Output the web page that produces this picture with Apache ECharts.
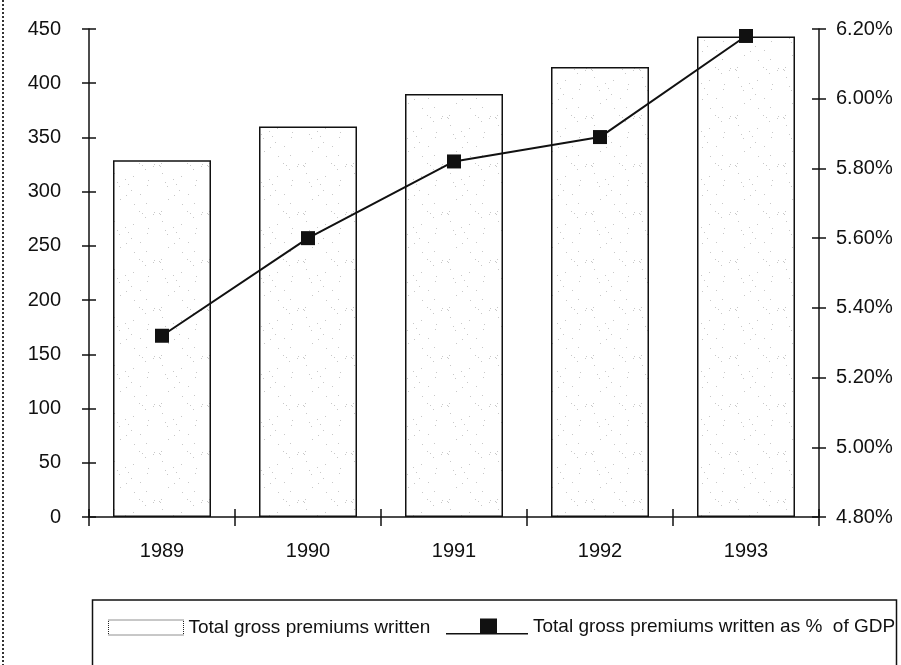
<!DOCTYPE html>
<html>
<head>
<meta charset="utf-8">
<script src="https://cdn.jsdelivr.net/npm/echarts@6/dist/echarts.min.js"></script>
<style>
  html, body { margin: 0; padding: 0; background: #fff; }
  #chart { width: 901px; height: 665px; }
</style>
</head>
<body>
<div id="chart"></div>
<script>
// Years on the category axis
const years = ['1989', '1990', '1991', '1992', '1993'];
// Total gross premiums written (left axis)
const premiums = [329, 360, 390, 415, 443];
// Total gross premiums written as % of GDP (right axis)
const pctGdp = [5.32, 5.60, 5.82, 5.89, 6.18];

const barName = 'Total gross premiums written';
const lineName = 'Total gross premiums written as %  of GDP';

// Light stipple texture for the bar fill
function stipple() {
  const c = document.createElement('canvas');
  c.width = 48; c.height = 48;
  const g = c.getContext('2d');
  g.fillStyle = '#ffffff';
  g.fillRect(0, 0, 48, 48);
  g.fillStyle = '#c8c8c8';
  let s = 7;
  for (let i = 0; i < 22; i++) {
    s = (s * 73 + 19) % 2304;
    g.fillRect(s % 48, Math.floor(s / 48), 1, 1);
  }
  return c;
}

const font = 'Liberation Sans, Arial, Helvetica, sans-serif';
const ink = '#111';
const chart = echarts.init(document.getElementById('chart'));

// Legend marker for the line: baseline rule with a square on it
const lineIcon = 'path://M0,14.8L82,14.8L82,16.3L0,16.3Z M34,0L51,0L51,16.3L34,16.3Z';

chart.setOption({
  animation: false,
  backgroundColor: '#fff',
  textStyle: { fontFamily: font },
  grid: { left: 89, right: 82, top: 29, bottom: 148 },
  legend: [
    {
      data: [{ name: barName, icon: 'rect' }],
      left: 108, top: 618, padding: 0,
      itemWidth: 75, itemHeight: 15,
      textStyle: { fontFamily: font, fontSize: 19, color: ink },
      itemStyle: { color: '#fff', borderColor: '#222', borderWidth: 1, borderType: 'dotted' }
    },
    {
      data: [{ name: lineName, icon: lineIcon }],
      left: 446, top: 617, padding: 0,
      itemWidth: 82, itemHeight: 16,
      symbolKeepAspect: false,
      textStyle: { fontFamily: font, fontSize: 19, color: ink },
      itemStyle: { color: ink }
    }
  ],
  xAxis: [
    {
      type: 'category',
      data: years,
      boundaryGap: true,
      axisLine: { lineStyle: { color: ink, width: 1.5 } },
      axisTick: { show: true, length: 9, lineStyle: { color: ink, width: 1.5 } },
      axisLabel: { margin: 24, fontSize: 20, color: ink, fontFamily: font }
    },
    {
      type: 'category',
      data: years,
      position: 'bottom',
      boundaryGap: true,
      axisLine: { show: false },
      axisTick: { show: true, inside: true, length: 8, lineStyle: { color: ink, width: 1.5 } },
      axisLabel: { show: false }
    }
  ],
  yAxis: [
    {
      type: 'value',
      min: 0, max: 450, interval: 50,
      position: 'left',
      splitLine: { show: false },
      axisLine: { show: true, lineStyle: { color: ink, width: 1.5 } },
      axisTick: { show: true, length: 7, lineStyle: { color: ink, width: 1.5 } },
      axisLabel: { margin: 28, fontSize: 20, color: ink, fontFamily: font, padding: [0, 0, 6, 0] }
    },
    {
      type: 'value',
      min: 4.8, max: 6.2, interval: 0.2,
      position: 'right',
      splitLine: { show: false },
      axisLine: { show: true, lineStyle: { color: ink, width: 1.5 } },
      axisTick: { show: true, length: 7, lineStyle: { color: ink, width: 1.5 } },
      axisLabel: {
        margin: 17, fontSize: 20, color: ink, fontFamily: font, padding: [0, 0, 6, 0],
        formatter: v => v.toFixed(2) + '%'
      }
    },
    {
      type: 'value',
      min: 0, max: 450, interval: 50,
      position: 'left',
      splitLine: { show: false },
      axisLine: { show: false },
      axisTick: { show: true, inside: true, length: 7, lineStyle: { color: ink, width: 1.5 } },
      axisLabel: { show: false }
    },
    {
      type: 'value',
      min: 4.8, max: 6.2, interval: 0.2,
      position: 'right',
      splitLine: { show: false },
      axisLine: { show: false },
      axisTick: { show: true, inside: true, length: 7, lineStyle: { color: ink, width: 1.5 } },
      axisLabel: { show: false }
    }
  ],
  series: [
    {
      name: barName,
      type: 'bar',
      xAxisIndex: 0,
      yAxisIndex: 0,
      data: premiums,
      barWidth: 98,
      itemStyle: {
        color: { image: stipple(), repeat: 'repeat' },
        borderColor: ink,
        borderWidth: 1.5
      }
    },
    {
      name: lineName,
      type: 'line',
      xAxisIndex: 0,
      yAxisIndex: 1,
      data: pctGdp,
      symbol: 'rect',
      symbolSize: 14,
      lineStyle: { color: ink, width: 2 },
      itemStyle: { color: ink }
    }
  ],
  graphic: [
    {
      type: 'line',
      shape: { x1: 3, y1: 0, x2: 3, y2: 665 },
      style: { stroke: '#333', lineWidth: 2, lineDash: [2, 2] }
    },
    {
      type: 'rect',
      shape: { x: 92.5, y: 600, width: 804, height: 80 },
      style: { fill: 'none', stroke: ink, lineWidth: 1.5 }
    }
  ]
});
</script>
</body>
</html>
